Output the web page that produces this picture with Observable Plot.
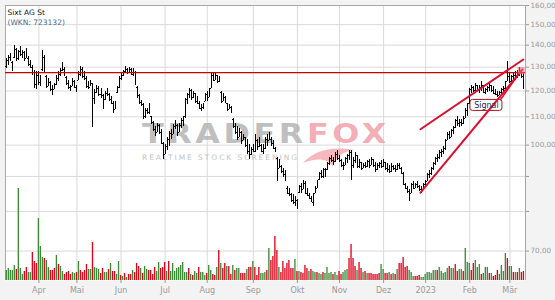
<!DOCTYPE html>
<html><head><meta charset="utf-8">
<script src="https://cdn.jsdelivr.net/npm/d3@7"></script>
<script src="https://cdn.jsdelivr.net/npm/@observablehq/plot@0.6"></script>
<style>
html,body{margin:0;padding:0;background:#f3f3f3;}
#chart{position:relative;width:555px;height:300px;overflow:hidden;}
#chart svg{position:absolute;left:0;top:0;}
</style></head><body><div id="chart"></div>
<script>
// ---- data (trading-day index 0 = 10 Mar 2022 ... 258 = 10 Mar 2023) ----
const opens=[130.5,133.0,134.5,132.0,134.5,138.0,134.0,137.0,135.5,136.5,
134.0,134.0,131.0,130.0,127.5,122.5,126.5,123.5,129.0,134.5,
126.0,122.0,123.5,120.5,120.5,122.5,125.0,127.0,128.5,129.0,
125.5,123.0,121.5,122.0,124.0,121.5,124.5,127.0,129.0,126.0,
125.0,122.0,121.5,123.0,117.0,119.5,121.0,118.5,118.0,116.5,
119.0,118.5,116.5,115.0,112.8,119.5,121.5,125.0,126.5,128.0,
129.0,127.8,129.0,127.0,127.5,121.5,118.0,115.5,114.5,110.0,
112.5,111.5,110.0,108.0,105.5,104.5,107.0,104.5,100.5,97.0,
99.5,101.8,104.0,103.6,106.5,107.0,104.5,107.0,108.5,110.0,
116.5,118.5,120.0,117.5,119.0,116.0,115.0,113.0,113.5,116.0,
118.5,117.5,121.0,126.5,124.5,126.5,124.0,119.5,116.0,117.5,
115.0,112.8,113.5,109.0,106.5,104.5,102.5,104.5,101.5,102.5,
100.0,98.0,96.8,98.5,98.0,101.5,99.5,100.0,98.0,99.0,
102.0,101.5,102.0,100.5,99.0,95.5,92.5,93.0,91.5,90.5,
86.5,85.0,84.8,83.0,82.5,83.0,85.2,87.0,86.0,88.0,
85.0,84.5,83.5,82.5,85.0,86.5,89.0,91.0,90.0,92.0,
92.0,94.0,95.5,95.0,94.5,97.0,95.5,95.0,93.5,93.5,
95.5,96.5,97.5,93.5,95.0,96.5,93.0,94.3,92.5,93.5,
93.0,94.5,93.5,95.3,93.5,92.0,93.5,94.0,93.0,94.2,
92.5,92.0,91.5,93.0,92.5,92.0,93.5,92.5,91.0,87.5,
86.5,85.5,85.0,87.5,86.5,87.5,87.0,86.0,86.0,87.5,
88.5,90.5,91.0,92.5,94.0,95.5,96.0,97.5,98.0,99.0,
101.5,103.5,102.5,105.0,106.0,108.5,107.5,108.0,107.5,109.5,
112.5,115.0,120.5,121.5,120.0,122.3,120.5,121.5,122.3,119.5,
120.5,121.5,122.3,120.0,119.0,118.5,118.0,119.5,120.5,121.0,
124.0,126.0,124.0,126.0,126.5,127.5,126.5,128.5,126.0];
const highs=[133.9,135.4,136.1,132.4,140.0,138.4,137.7,139.2,137.7,136.9,
138.4,134.6,133.1,130.9,128.7,128.0,128.0,126.6,137.4,135.4,
126.6,125.1,123.8,122.4,123.1,126.6,128.0,129.4,132.1,129.7,
125.9,124.4,122.4,125.1,124.4,122.4,128.0,130.2,129.7,128.0,
125.9,123.8,124.4,123.1,120.4,122.4,121.7,121.0,118.4,119.7,
121.0,119.0,117.7,115.7,115.7,121.7,125.9,127.3,128.7,130.2,
129.4,129.7,129.4,129.4,128.0,121.7,118.4,116.4,115.1,113.2,
113.2,115.1,110.1,108.3,106.5,107.7,107.3,105.4,100.8,100.3,
102.5,104.8,105.4,107.1,108.5,107.1,107.7,109.5,110.1,117.0,
119.0,121.0,120.4,119.7,119.0,117.7,115.7,114.5,115.1,119.0,
119.7,121.0,127.3,127.6,127.3,126.6,125.9,119.7,119.0,117.7,
115.1,114.5,113.8,109.5,107.7,106.5,105.9,104.8,103.6,102.5,
101.9,100.3,99.2,100.3,103.6,101.9,102.5,100.3,100.3,102.5,
103.6,104.2,102.5,101.4,99.2,96.0,95.4,93.4,92.3,91.8,
86.9,86.4,85.0,84.6,84.1,83.2,87.4,87.9,88.8,88.4,
86.4,85.0,84.1,85.0,86.9,88.8,91.3,91.8,92.3,92.3,
94.4,96.0,96.5,96.0,97.6,98.1,96.5,95.4,94.4,96.0,
97.0,98.1,98.1,96.0,97.6,96.5,95.4,94.4,93.9,94.4,
94.9,95.4,96.0,95.4,94.4,93.9,94.4,94.9,95.4,94.4,
93.9,93.4,93.9,93.4,93.4,93.9,93.9,92.9,91.3,87.9,
86.9,86.0,87.9,88.4,87.9,88.4,87.4,86.9,87.9,88.8,
90.8,91.8,92.9,94.4,96.0,97.0,98.1,98.6,99.7,101.9,
104.2,104.8,105.4,106.5,108.9,110.1,108.9,108.9,110.1,113.2,
115.1,121.0,122.4,121.7,123.1,122.4,122.4,123.8,122.4,121.0,
121.7,123.1,122.4,121.7,120.4,119.7,119.9,121.0,121.7,124.0,
132.4,127.3,126.6,127.3,128.0,128.7,129.7,128.7,127.3];
const lows=[129.4,130.9,132.4,128.0,133.9,132.4,133.1,134.6,133.9,132.4,
133.9,130.2,129.4,126.6,121.0,120.4,122.4,121.7,128.0,127.3,
121.0,121.7,119.7,118.1,120.4,122.4,123.8,125.9,128.0,125.9,
122.4,120.4,119.7,121.7,121.0,119.4,124.4,125.9,125.1,124.4,
121.0,120.4,121.7,106.1,114.5,119.0,117.7,117.0,112.6,116.4,
117.7,115.7,114.5,111.3,112.6,119.0,121.0,124.4,125.9,127.3,
126.9,127.7,126.6,125.9,122.4,117.0,114.5,113.8,108.9,109.5,
110.7,110.7,107.3,104.8,103.1,104.2,103.6,100.3,95.4,97.0,
98.1,99.7,101.9,103.6,105.4,103.1,104.2,105.9,106.5,109.5,
114.5,117.0,116.4,117.0,115.1,114.5,112.6,112.0,112.6,115.7,
115.7,117.5,121.0,123.8,124.4,123.1,123.4,115.1,115.7,115.1,
112.0,112.6,111.3,105.9,103.6,101.4,102.5,100.3,101.4,99.2,
97.0,95.4,96.5,97.6,97.6,98.1,99.2,97.6,97.0,98.6,
99.7,101.4,99.7,98.6,97.6,88.4,92.3,90.8,89.8,88.4,
84.6,84.1,82.3,81.8,81.4,80.5,85.0,85.0,86.0,84.6,
84.1,83.2,82.3,81.4,85.0,86.4,88.8,89.3,89.3,89.8,
91.8,93.4,94.4,93.4,94.4,94.9,94.4,92.9,91.8,93.4,
93.9,94.9,88.8,92.3,93.9,92.3,92.3,91.8,92.3,92.3,
92.9,92.3,93.4,92.9,91.3,91.8,92.3,92.3,92.9,91.8,
91.3,90.8,91.3,91.8,91.3,91.8,92.3,90.8,87.4,86.0,
85.0,82.7,85.0,86.0,86.4,86.4,85.5,85.0,86.0,86.9,
88.4,89.3,90.3,91.8,93.4,94.4,95.4,96.0,97.0,98.1,
101.4,101.9,102.5,103.6,105.9,106.5,106.1,106.5,107.1,109.5,
110.1,114.5,119.0,119.4,119.7,119.7,119.0,119.7,119.0,118.7,
119.4,119.9,119.4,118.7,118.1,117.4,118.1,118.7,119.4,119.9,
123.8,123.1,123.1,123.8,124.4,125.1,125.9,125.1,120.4];
const closes=[133.0,134.5,133.0,129.0,139.0,133.5,137.0,135.5,136.5,133.5,
137.5,131.0,130.0,127.5,122.5,126.5,123.5,125.5,135.0,128.0,
122.0,124.0,120.5,119.0,122.5,126.0,127.0,128.5,130.0,126.5,
123.0,121.0,120.5,124.5,121.5,120.0,127.0,129.0,126.0,125.0,
122.0,121.5,123.0,117.0,119.5,121.5,118.5,119.5,114.0,119.0,
118.5,116.5,115.0,112.5,115.0,121.0,125.5,126.5,128.0,129.5,
127.5,129.0,127.0,128.5,123.0,117.5,115.5,114.5,110.0,112.5,
111.5,114.5,108.0,105.5,104.0,107.0,104.5,100.8,96.5,99.5,
101.8,104.0,102.5,106.5,108.0,104.0,107.0,109.0,107.0,116.5,
118.5,120.5,117.5,119.0,116.0,115.0,113.0,113.5,114.8,118.5,
116.5,120.5,126.5,124.5,126.5,124.0,125.0,116.0,118.5,115.5,
112.5,114.0,111.8,106.5,104.5,102.0,105.0,101.0,103.0,99.8,
98.0,96.5,98.5,99.5,102.5,99.0,101.5,98.0,99.5,102.0,
100.5,103.5,100.5,99.0,98.0,89.5,94.5,91.5,90.5,89.0,
85.0,85.8,83.0,82.5,83.5,81.0,87.0,85.5,88.5,85.0,
84.5,83.5,82.8,84.8,86.5,88.5,91.0,89.8,92.0,90.5,
94.0,95.5,95.0,94.0,97.0,95.5,94.8,93.5,92.5,95.5,
96.5,97.5,93.5,95.0,96.5,93.0,94.5,92.5,93.5,92.8,
94.5,93.0,95.5,93.5,92.0,93.5,94.0,93.0,95.0,92.5,
92.0,91.5,93.5,92.5,91.8,93.5,92.5,91.0,88.0,86.5,
85.5,83.5,87.5,86.5,87.5,87.0,86.0,85.5,87.5,88.5,
90.5,91.5,92.5,94.0,95.5,96.5,97.5,98.0,99.5,101.5,
103.5,102.5,105.0,106.0,108.5,107.5,108.5,107.0,109.5,112.5,
114.5,120.5,121.5,120.0,122.5,120.5,121.5,123.0,119.5,120.5,
121.5,122.5,120.0,119.0,118.5,118.0,119.5,120.5,121.0,123.5,
126.0,124.0,126.0,126.5,127.5,126.5,128.5,126.0,121.0];
// volume in thousand shares
const volumes=[100,120,100,100,150,110,920,120,60,90,
130,80,80,280,190,170,620,340,230,220,
200,130,100,100,120,250,160,140,90,60,
80,90,60,80,70,80,190,100,80,100,
160,110,110,380,130,120,110,70,120,80,
80,110,170,90,90,60,190,50,40,70,
30,60,60,100,80,170,140,120,70,140,
110,100,100,60,130,90,180,120,130,180,
90,190,90,170,90,120,130,150,180,80,
80,120,60,50,90,70,130,80,80,50,
70,150,100,60,50,130,300,170,120,170,
140,140,60,150,100,120,120,70,70,70,
110,130,130,190,130,50,130,70,70,80,
100,320,200,240,440,300,130,80,190,120,
170,200,120,120,210,90,90,80,70,150,
120,90,110,90,80,80,70,60,80,70,
130,70,80,60,80,50,90,60,80,100,
110,220,360,220,140,100,180,120,80,90,
70,70,70,60,60,60,70,160,110,70,
70,80,60,70,60,110,170,170,230,130,
140,100,80,40,40,40,50,30,30,60,
80,80,70,100,100,100,130,90,70,80,
120,140,120,120,160,90,110,110,90,320,
180,170,100,170,200,130,160,60,70,130,
130,70,70,40,50,100,60,150,90,270,
220,140,140,80,80,80,120,80,90];
// volume bar colour: g = up day, r = down day
const volumeDirection=("gggggrgggr"+"rggrrrgggr"+"ggrrrgrggr"+"rrrggrgrrr"+"rggrgggrrg"+
"grgrrggrgr"+"grrgrrrgrg"+"grrrrggrrr"+"grgggggggg"+"grgrggrggg"+
"rggrrgrgrr"+"grrgrggrrr"+"grrgrrrggg"+"rgrrrrgrrr"+"rrrrgrgrrr"+
"rgrggrggrg"+"gggrggrrgg"+"grrrrgrrgr"+"grrrrrrggr"+"rgrgrgrrrr"+
"rgggrrrggg"+"gggggrgggg"+"grggrrggrg"+"ggrrgggrgg"+"grgrrrgggg"+"rggrgrgrr").split("");

const monthStarts=[16,35,57,79,100,123,145,166,188,209,231,251];
const monthLabels=["Apr","Mai","Jun","Jul","Aug","Sep","Okt","Nov","Dez","2023","Feb","Mär"];
const priceTicks=[70,80,90,100,110,120,130,140,150,160];
const titleLines=["Sixt AG St","(WKN: 723132)"];
const resistanceLevel=127.6;
const trendUpper=[{i:206.4,p:105.5},{i:257.7,p:133.4}];
const trendLower=[{i:206.4,p:85.2},{i:257.3,p:129.0}];
const signalPointer=[{i:246.4,p:116.6},{i:256.6,p:128.5}];
const signalLabel=[{i:239.3,p:114.3,text:"Signal"}];
const signalMarker=[{i:256.6,p:128.5}];

// ---- build ----
const bars=highs.map((h,i)=>({i,o:opens[i],h,l:lows[i],c:closes[i],v:volumes[i],up:volumeDirection[i]==="g"}));
const labelOf=new Map(monthStarts.map((d,k)=>[d,monthLabels[k]]));
const fmt=d=>d.toFixed(2).replace(".",",");
const xDomain=[-0.65,258.8], yDomain=[63.4,160];
const common={width:555,height:300,marginTop:5,marginRight:30,marginBottom:20,marginLeft:5,
  x:{domain:xDomain,axis:null,label:null},
  style:{background:"transparent",fontFamily:"DejaVu Sans",overflow:"visible"}};
const priceY={type:"log",domain:yDomain,axis:null,label:null};

const base=Plot.plot({...common,y:priceY,marks:[
  Plot.frame({fill:"white",stroke:null}),
  Plot.gridX(monthStarts,{stroke:"#dadada",strokeOpacity:1}),
  Plot.gridY(priceTicks,{stroke:"#dadada",strokeOpacity:1}),
  Plot.ruleX([xDomain[0]],{stroke:"#a8a8a8"}),
  Plot.ruleX([xDomain[1]],{stroke:"#a8a8a8"}),
  Plot.ruleY([yDomain[1]],{stroke:"#a8a8a8"}),
  Plot.axisY(priceTicks,{anchor:"right",tickFormat:fmt,tickSize:3,tickPadding:2,fontSize:7.2,color:"#9a9a9a",label:null}),
  Plot.axisX(monthStarts,{anchor:"bottom",tickFormat:d=>labelOf.get(d),tickSize:3,tickPadding:4,fontSize:8,color:"#9a9a9a",label:null})
]});

// watermark
const wm=d3.select(base).append("g").attr("pointer-events","none").attr("text-anchor","start");
const t1=wm.append("text").attr("transform","translate(142,143) scale(1.18,1)").attr("font-family","DejaVu Sans").attr("font-weight","bold")
  .attr("font-size",27).attr("textLength",207).attr("lengthAdjust","spacing");
t1.append("tspan").attr("fill","#b4b4b4").attr("fill-opacity",0.85).text("TRADER");
t1.append("tspan").attr("fill","#f3a0a9").attr("fill-opacity",0.85).text("FOX");
wm.append("path").attr("d","M303,163 C315,150 332,146 354,150 C342,152 336,157 333,166 C326,158 316,158 303,163 Z")
  .attr("fill","#f3a0a9").attr("fill-opacity",0.75);
wm.append("text").attr("x",142).attr("y",160).attr("font-family","DejaVu Sans").attr("font-size",7.5)
  .attr("fill","#c4c4c4").attr("textLength",155).attr("lengthAdjust","spacing").text("REALTIME STOCK SCREENING");

const vol=Plot.plot({...common,y:{domain:[0,2750],axis:null,label:null},marks:[
  Plot.rectY(bars.filter(d=>d.up),{x1:d=>d.i-0.33,x2:d=>d.i+0.33,y1:0,y2:"v",fill:"#3a8a36"}),
  Plot.rectY(bars.filter(d=>!d.up),{x1:d=>d.i-0.33,x2:d=>d.i+0.33,y1:0,y2:"v",fill:"#e2001a"})
]});

const price=Plot.plot({...common,y:priceY,marks:[
  Plot.ruleX(bars,{x:"i",y1:"l",y2:"h",stroke:"#000",strokeWidth:1,shapeRendering:"crispEdges"}),
  Plot.ruleY(bars,{x1:d=>d.i-0.5,x2:"i",y:"o",stroke:"#000",strokeWidth:1,shapeRendering:"crispEdges"}),
  Plot.ruleY(bars,{x1:"i",x2:d=>d.i+0.5,y:"c",stroke:"#000",strokeWidth:1,shapeRendering:"crispEdges"}),
  Plot.ruleY([resistanceLevel],{stroke:"#cc0000",strokeWidth:1.3}),
  Plot.line(trendUpper,{x:"i",y:"p",stroke:"#d9102f",strokeWidth:2}),
  Plot.line(trendLower,{x:"i",y:"p",stroke:"#d9102f",strokeWidth:2}),
  Plot.line(signalPointer,{x:"i",y:"p",stroke:"#d9102f",strokeWidth:1.5}),
  Plot.dot(signalMarker,{x:"i",y:"p",symbol:"square",r:4,fill:"#f06a78",fillOpacity:0.6}),
  Plot.text(signalLabel,{x:"i",y:"p",text:"text",fontSize:8,fill:"#1a2a4a"}),
  Plot.text([titleLines[0]],{frameAnchor:"top-left",dx:2,dy:4,lineAnchor:"top",fontSize:7.5,fill:"#111",textAnchor:"start"}),
  Plot.text([titleLines[1]],{frameAnchor:"top-left",dx:2,dy:14,lineAnchor:"top",fontSize:7.5,fill:"#4a6a96",textAnchor:"start"})
]});

const root=document.getElementById("chart");
root.append(base,vol,price);
// rounded box behind the signal label, positioned through the plot's own scales
const sx=price.scale("x"), sy=price.scale("y");
const cx=sx.apply(signalLabel[0].i), cy=sy.apply(signalLabel[0].p);
d3.select(vol).append("rect").attr("x",cx-16).attr("y",cy-5.5).attr("width",32).attr("height",11)
  .attr("rx",2.5).attr("fill","white").attr("stroke","#b01020").attr("stroke-width",1);
</script></body></html>
